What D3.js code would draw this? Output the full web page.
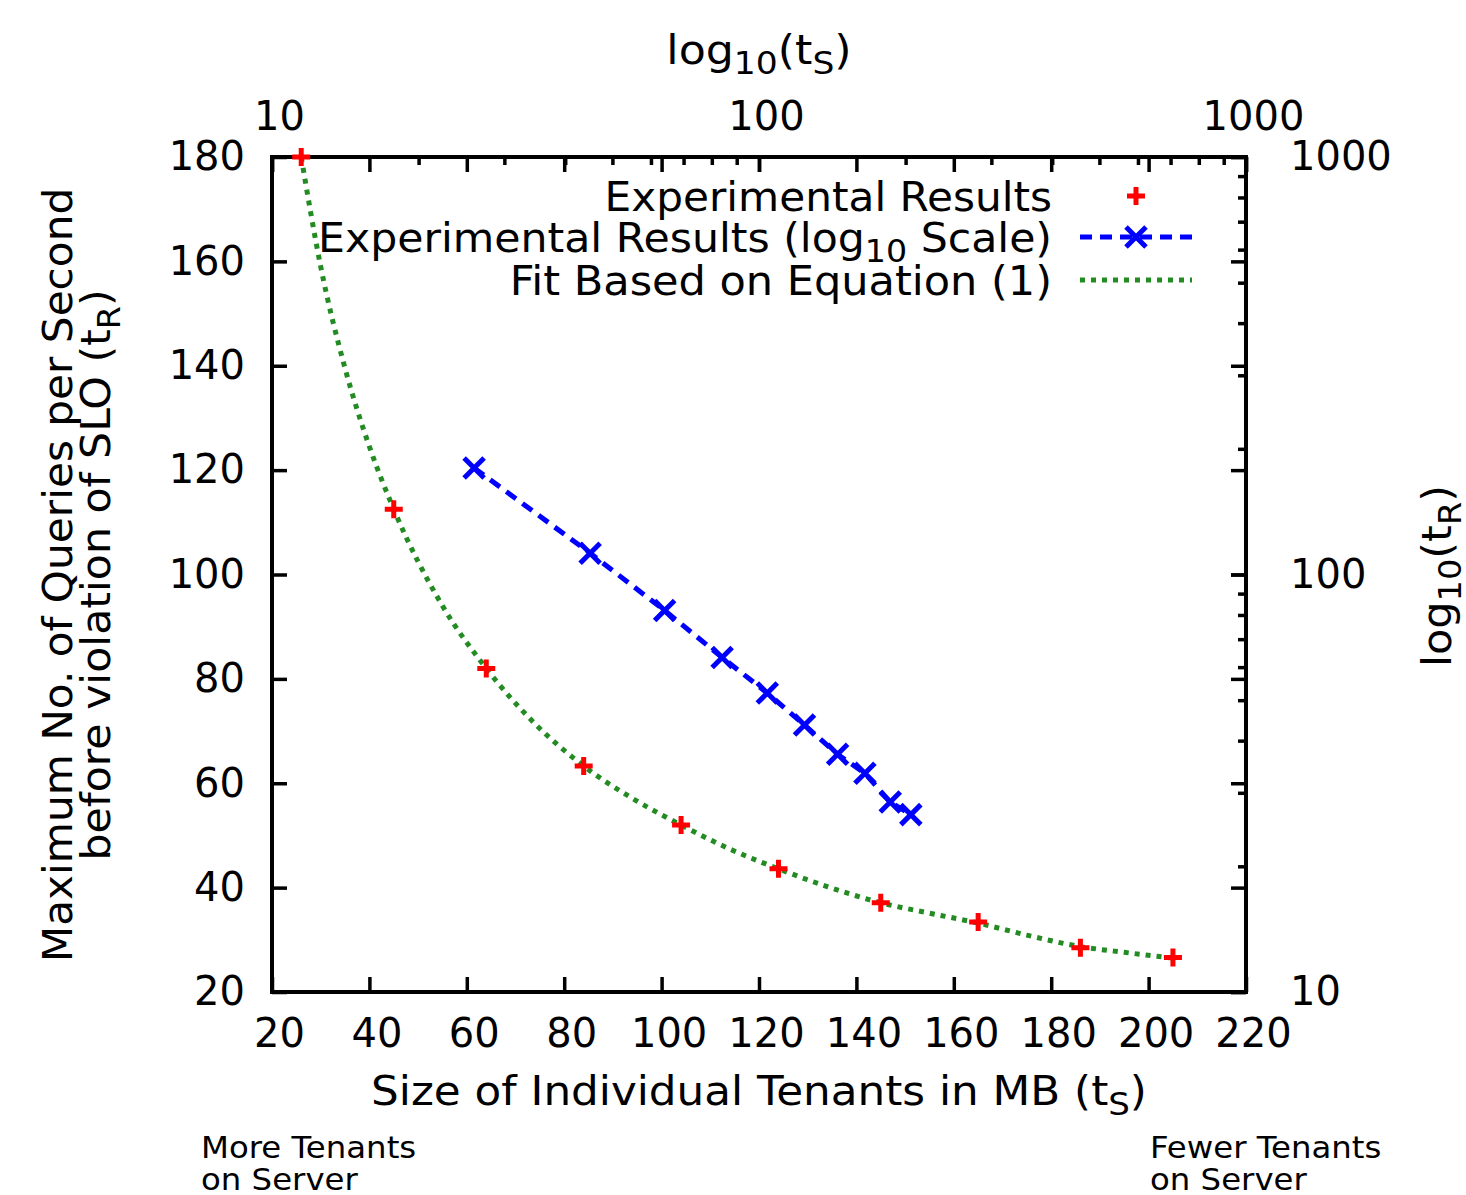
<!DOCTYPE html>
<html>
<head>
<meta charset="utf-8">
<script src="https://cdn.jsdelivr.net/npm/d3@7"></script>
<style>
body { margin: 0; background: #fff; }
text { font-family: "DejaVu Sans", Verdana, sans-serif; fill: #000; }
</style>
</head>
<body>
<div id="graph-container"></div>
<script>
// measured data: tenant size (MB) vs max queries per second before SLO violation
var tenantSizeMB = [26, 45, 64, 84, 104, 124, 145, 165, 186, 205];
var maxQps = [180, 112.5, 82, 63.3, 52, 43.6, 37.1, 33.4, 28.5, 26.6];

// green fit curve
var fitTs = [26, 30, 35, 40, 45, 55, 64, 74, 84, 94, 104, 114, 124, 134, 145, 155, 165, 175, 186, 195, 205];
var fitQps = [180, 159, 139.5, 124.5, 112.5, 94, 82, 71.4, 63.3, 57.1, 52, 47.4, 43.6, 40.2, 37.1, 35.1, 33.2, 30.9, 28.7, 27.6, 26.5];

var xTicks = [20, 40, 60, 80, 100, 120, 140, 160, 180, 200, 220];
var yTicks = [20, 40, 60, 80, 100, 120, 140, 160, 180];
var logMajor = [10, 100, 1000];
var logMinor = [20, 30, 40, 50, 60, 70, 80, 90, 200, 300, 400, 500, 600, 700, 800, 900];

var legendLabels = ["Experimental Results", "Experimental Results (log", "Fit Based on Equation (1)"];

window.onload = function(){
	var w = 1466, h = 1195;
	var left = 272, right = 1246, top = 157, bottom = 992;

	var svg = d3.select("#graph-container")
		.append("svg")
		.attr("width", w)
		.attr("height", h)
		.style("background-color", "#fff");

	var x = d3.scaleLinear().domain([20, 220]).range([left, right]);
	var y = d3.scaleLinear().domain([20, 180]).range([bottom, top]);
	var x2 = d3.scaleLog().domain([10, 1000]).range([left, right]);
	var y2 = d3.scaleLog().domain([10, 1000]).range([bottom, top]);

	function styleAxis(g, dx){
		g.select(".domain").remove();
		g.selectAll(".tick line").attr("stroke", "#000").attr("stroke-width", 3.5);
		g.selectAll(".tick text").attr("font-size", 40).attr("font-family", "DejaVu Sans")
			.attr("dx", dx || 0);
	}

	// bottom axis + mirrored on top
	svg.append("g")
		.attr("transform", "translate(0," + bottom + ")")
		.call(d3.axisBottom(x).tickValues(xTicks).tickSize(-15).tickPadding(27).tickFormat(d3.format("d")))
		.call(styleAxis, 7);
	svg.append("g")
		.attr("transform", "translate(0," + top + ")")
		.call(d3.axisTop(x).tickValues(xTicks).tickSize(-15).tickFormat(""))
		.call(styleAxis);

	// left axis + mirrored on right
	svg.append("g")
		.attr("transform", "translate(" + left + ",0)")
		.call(d3.axisLeft(y).tickValues(yTicks).tickSize(-15).tickPadding(27).tickFormat(d3.format("d")))
		.call(styleAxis);
	svg.append("g")
		.attr("transform", "translate(" + right + ",0)")
		.call(d3.axisRight(y).tickValues(yTicks).tickSize(-15).tickFormat(""))
		.call(styleAxis);

	// top log axis
	svg.append("g")
		.attr("transform", "translate(0," + top + ")")
		.call(d3.axisTop(x2).tickValues(logMajor).tickSize(-15).tickPadding(27).tickFormat(d3.format("d")))
		.call(styleAxis, 7);
	svg.append("g")
		.attr("transform", "translate(0," + top + ")")
		.call(d3.axisTop(x2).tickValues(logMinor).tickSize(-8).tickFormat(""))
		.call(styleAxis);

	// right log axis
	svg.append("g")
		.attr("transform", "translate(" + right + ",0)")
		.call(d3.axisRight(y2).tickValues(logMajor).tickSize(-15).tickPadding(44).tickFormat(d3.format("d")))
		.call(styleAxis);
	svg.append("g")
		.attr("transform", "translate(" + right + ",0)")
		.call(d3.axisRight(y2).tickValues(logMinor).tickSize(-8).tickFormat(""))
		.call(styleAxis);

	// frame
	svg.append("rect")
		.attr("x", left)
		.attr("y", top)
		.attr("width", right - left)
		.attr("height", bottom - top)
		.attr("fill", "none")
		.attr("stroke", "#000")
		.attr("stroke-width", 4);

	var plot = svg.append("g");
	svg.append("clipPath").attr("id", "clip")
		.append("rect").attr("x", left).attr("y", top - 2).attr("width", right - left).attr("height", bottom - top + 2);

	// fit curve
	var fitData = fitTs.map(function(d, i){ return [d, fitQps[i]]; });
	plot.append("path")
		.datum(fitData)
		.attr("clip-path", "url(#clip)")
		.attr("d", d3.line().x(function(d){ return x(d[0]); }).y(function(d){ return y(d[1]); }).curve(d3.curveMonotoneX))
		.attr("fill", "none")
		.attr("stroke", "forestgreen")
		.attr("stroke-width", 5)
		.attr("stroke-dasharray", "5,6");

	var pts = tenantSizeMB.map(function(d, i){ return [d, maxQps[i]]; });

	// log-scale series
	plot.append("path")
		.datum(pts)
		.attr("d", d3.line().x(function(d){ return x2(d[0]); }).y(function(d){ return y2(d[1]); }))
		.attr("fill", "none")
		.attr("stroke", "#0000ff")
		.attr("stroke-width", 5)
		.attr("stroke-dasharray", "12,8");

	var crossPath = "M-10,-10L10,10M-10,10L10,-10";
	var plusPath = "M-9,0H9M0,-9V9";

	plot.selectAll(".cross")
		.data(pts)
		.enter().append("path")
		.attr("class", "cross")
		.attr("transform", function(d){ return "translate(" + x2(d[0]) + "," + y2(d[1]) + ")"; })
		.attr("d", crossPath)
		.attr("stroke", "#0000ff")
		.attr("stroke-width", 5);

	plot.selectAll(".plus")
		.data(pts)
		.enter().append("path")
		.attr("class", "plus")
		.attr("transform", function(d){ return "translate(" + x(d[0]) + "," + y(d[1]) + ")"; })
		.attr("d", plusPath)
		.attr("stroke", "#ff0000")
		.attr("stroke-width", 5);

	// text placed in its own group: translate, rotate, then widen a little (the source font is wider)
	function label(px, py, rot, sx, anchor, size, parts){
		var t = svg.append("g")
			.attr("transform", "translate(" + px + "," + py + ") rotate(" + rot + ") scale(" + sx + ",1)")
			.append("text")
			.attr("text-anchor", anchor)
			.attr("font-size", size);
		parts.forEach(function(p){
			if (p.sub) t.append("tspan").attr("font-size", size * 0.78).attr("dy", 10).text(p.s);
			else t.append("tspan").attr("dy", p.back ? -10 : 0).text(p.s);
		});
		return t;
	}

	// legend
	var lx = 1052, rows = [196, 237, 280];
	label(lx, rows[0] + 15, 0, 1.03, "end", 41, [{s: legendLabels[0]}]);
	label(lx, rows[1] + 15, 0, 1.04, "end", 41, [{s: legendLabels[1]}, {s: "10", sub: true}, {s: " Scale)", back: true}]);
	label(lx, rows[2] + 15, 0, 1.05, "end", 41, [{s: legendLabels[2]}]);

	svg.append("path").attr("transform", "translate(1136," + rows[0] + ")").attr("d", plusPath)
		.attr("stroke", "#ff0000").attr("stroke-width", 5);
	svg.append("line").attr("x1", 1080).attr("x2", 1195).attr("y1", rows[1]).attr("y2", rows[1])
		.attr("stroke", "#0000ff").attr("stroke-width", 5).attr("stroke-dasharray", "12,8");
	svg.append("path").attr("transform", "translate(1136," + rows[1] + ")").attr("d", crossPath)
		.attr("stroke", "#0000ff").attr("stroke-width", 5);
	svg.append("line").attr("x1", 1080).attr("x2", 1192).attr("y1", rows[2]).attr("y2", rows[2])
		.attr("stroke", "forestgreen").attr("stroke-width", 5).attr("stroke-dasharray", "5,6");

	// axis titles
	label(759, 64, 0, 1.08, "middle", 41,
		[{s: "log"}, {s: "10", sub: true}, {s: "(t", back: true}, {s: "S", sub: true}, {s: ")", back: true}]);
	label(759, 1105, 0, 1.065, "middle", 41,
		[{s: "Size of Individual Tenants in MB (t"}, {s: "S", sub: true}, {s: ")", back: true}]);
	label(72, 575, -90, 1.03, "middle", 41, [{s: "Maximum No. of Queries per Second"}]);
	label(110, 575, -90, 1.04, "middle", 41,
		[{s: "before violation of SLO (t"}, {s: "R", sub: true}, {s: ")", back: true}]);
	label(1451, 576, -90, 1.05, "middle", 41,
		[{s: "log"}, {s: "10", sub: true}, {s: "(t", back: true}, {s: "R", sub: true}, {s: ")", back: true}]);

	// notes under the chart
	var notes = [["More Tenants", "on Server", 201], ["Fewer Tenants", "on Server", 1150]];
	notes.forEach(function(n){
		label(n[2], 1158, 0, 1.045, "start", 31, [{s: n[0]}]);
		label(n[2], 1190, 0, 1.045, "start", 31, [{s: n[1]}]);
	});
}
</script>
</body>
</html>
